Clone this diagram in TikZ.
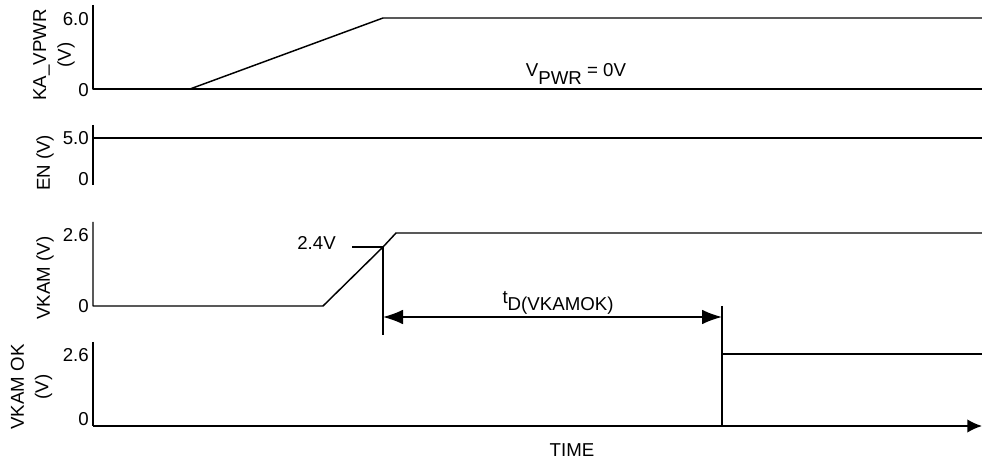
\documentclass[tikz,border=0pt]{standalone}
\usepackage{fontspec}
\setmainfont{Liberation Sans}
\usetikzlibrary{arrows.meta}
\tikzset{lbl/.style={font=\fontsize{14}{18.5}\selectfont,inner sep=0pt},
ylbl/.style={lbl,rotate=90,align=center},
tick/.style={lbl,anchor=east},
sig/.style={line width=1.1pt,line join=round}}
\begin{document}
\begin{tikzpicture}[x=0.75pt,y=-0.75pt,>={Latex[length=15pt,width=11pt]}]
\useasboundingbox(0,0)rectangle(982,463);
% KA_VPWR
\draw[sig](93,5)--(93,89)--(982,89);
\draw[sig](190,89)--(383,18)--(982,18);
\node[ylbl](kaname) at (54,55){KA\_VPWR\\(V)};
\node[tick](ka6) at (89,19){6.0};
\node[tick](ka0) at (89,90){0};
\node[lbl](vpwr) at (576,74){V\raisebox{-6pt}{PWR} = 0V};
% EN
\draw[sig](93,125)--(93,185);
\draw[sig](93,138)--(982,138);
\node[ylbl](enname) at (45,163){EN (V)};
\node[tick](en5) at (89,138.5){5.0};
\node[tick](en0) at (89,179){0};
% VKAM
\draw[sig](93,222)--(93,306)--(323,306)--(383,247)--(396,233)--(982,233);
\coordinate(th) at (383,247);
\draw[sig](352,247)--(th)--(383,335);
\node[lbl,anchor=east](th24) at (336,243){2.4V};
\node[ylbl](vkname) at (45,278){VKAM (V)};
\node[tick](vk26) at (89,235){2.6};
\node[tick](vk0) at (89,306){0};
\coordinate(ds) at (383,317);
\coordinate(de) at (722,317);
\draw[sig,<->](ds)--(de);
\node[lbl](tdname) at (558,303){t\raisebox{-5.5pt}{D(VKAMOK)}};
% VKAM OK
\draw[sig](722,306)--(722,426);
\draw[sig](93,342)--(93,426);
\draw[sig,-{Latex[length=11pt,width=10pt]}](93,426)--(982,426);
\draw[sig](722,354)--(982,354);
\node[ylbl](okname) at (31.5,387){VKAM OK\\(V)};
\node[tick](ok26) at (89,355){2.6};
\node[tick](ok0) at (89,419){0};
\node[lbl](time) at (572,450){TIME};
\end{tikzpicture}
\end{document}
